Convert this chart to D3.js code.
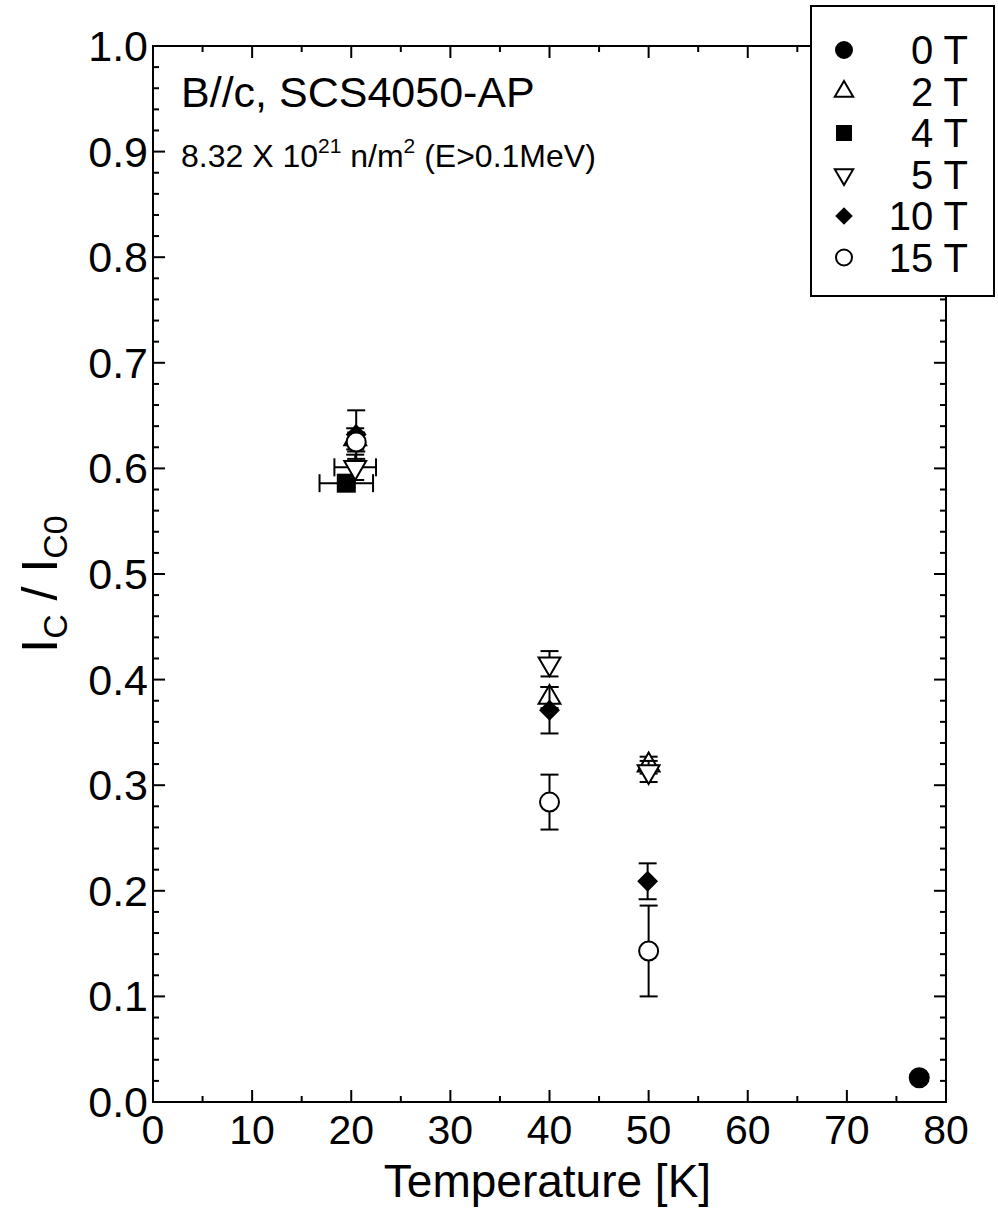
<!DOCTYPE html>
<html><head><meta charset="utf-8">
<script src="https://cdn.jsdelivr.net/npm/d3@7"></script>
<style>
html,body{margin:0;padding:0;background:#fff;}
svg text{font-family:"Liberation Sans",Arial,Helvetica,sans-serif;fill:#000;}
</style></head>
<body><svg id="c" width="998" height="1208"></svg>
<script>
// ---- data ----
const seriesNames = ["0 T","2 T","4 T","5 T","10 T","15 T"];
const symbolsKind = ["circleFilled","triUp","square","triDown","diamond","circleOpen"];
const temp0 = [77.3];            const val0 = [0.023];               const err0 = [0];
const temp2 = [20.4, 40.0, 50.0]; const val2 = [0.628, 0.383, 0.319]; const err2 = [0.010, 0.010, 0.008];
const temp4 = [19.5];            const val4 = [0.586];               const err4 = [0.004];
const temp5 = [20.4, 40.0, 50.0]; const val5 = [0.601, 0.415, 0.313]; const err5 = [0.012, 0.012, 0.010];
const temp10 = [20.5, 40.0, 49.9]; const val10 = [0.632, 0.371, 0.209]; const err10 = [0.023, 0.022, 0.017];
const temp15 = [20.5, 40.0, 50.0]; const val15 = [0.625, 0.284, 0.143]; const err15 = [0.009, 0.026, 0.043];
const xerr4 = [2.7];
const xerr5 = [2.1, 0, 0];
const xTicks = [0,10,20,30,40,50,60,70,80];
const yTicks = [0.0,0.1,0.2,0.3,0.4,0.5,0.6,0.7,0.8,0.9,1.0];

const series = [
  {name:seriesNames[0], kind:symbolsKind[0], t:temp0, v:val0, e:err0, xe:[0]},
  {name:seriesNames[1], kind:symbolsKind[1], t:temp2, v:val2, e:err2, xe:[0,0,0]},
  {name:seriesNames[2], kind:symbolsKind[2], t:temp4, v:val4, e:err4, xe:xerr4},
  {name:seriesNames[3], kind:symbolsKind[3], t:temp5, v:val5, e:err5, xe:xerr5},
  {name:seriesNames[4], kind:symbolsKind[4], t:temp10, v:val10, e:err10, xe:[0,0,0]},
  {name:seriesNames[5], kind:symbolsKind[5], t:temp15, v:val15, e:err15, xe:[0,0,0]},
];

const svg = d3.select("#c");
const L=153, R=946, T=46, B=1102;
const x = d3.scaleLinear().domain([0,80]).range([L,R]);
const y = d3.scaleLinear().domain([0,1]).range([B,T]);

// frame
svg.append("rect").attr("x",L).attr("y",T).attr("width",R-L).attr("height",B-T)
  .attr("fill","none").attr("stroke","#000").attr("stroke-width",2);

// ticks
const g = svg.append("g").attr("stroke","#000").attr("stroke-width",2);
d3.range(0,81,5).forEach(v=>{
  const len = v%10===0 ? 12 : 6;
  g.append("line").attr("x1",x(v)).attr("x2",x(v)).attr("y1",B).attr("y2",B-len);
  g.append("line").attr("x1",x(v)).attr("x2",x(v)).attr("y1",T).attr("y2",T+len);
});
d3.range(0,51).forEach(i=>{
  const v=i*0.02; const len = i%5===0 ? 12 : 6;
  g.append("line").attr("x1",L).attr("x2",L+len).attr("y1",y(v)).attr("y2",y(v));
  g.append("line").attr("x1",R).attr("x2",R-len).attr("y1",y(v)).attr("y2",y(v));
});

// tick labels
svg.selectAll(".xl").data(xTicks).enter().append("text")
  .attr("x",d=>x(d)).attr("y",B+42).attr("text-anchor","middle")
  .attr("font-size",41).text(d=>d);
svg.selectAll(".yl").data(yTicks).enter().append("text")
  .attr("x",L-5).attr("y",d=>y(d)+15).attr("text-anchor","end")
  .attr("font-size",43).text(d=>d.toFixed(1));

// axis titles
svg.append("text").attr("x",(L+R)/2-2).attr("y",1197).attr("text-anchor","middle")
  .attr("font-size",46).text("Temperature [K]");
const yt = svg.append("text").attr("transform","translate(57,584) rotate(-90)")
  .attr("text-anchor","middle").attr("font-size",50);
yt.append("tspan").text("I");
yt.append("tspan").attr("font-size",34).attr("dy",10).text("C");
yt.append("tspan").attr("dy",-10).text(" / I");
yt.append("tspan").attr("font-size",34).attr("dy",10).text("C0");

// annotations
svg.append("text").attr("x",181).attr("y",107).attr("font-size",43).text("B//c, SCS4050-AP");
const an = svg.append("text").attr("x",181).attr("y",167).attr("font-size",32);
an.append("tspan").text("8.32 X 10");
an.append("tspan").attr("font-size",21).attr("dy",-14).text("21");
an.append("tspan").attr("dy",14).text(" n/m");
an.append("tspan").attr("font-size",21).attr("dy",-14).text("2");
an.append("tspan").attr("dy",14).text(" (E>0.1MeV)");

// marker drawing
function marker(sel, kind, s){
  const h=s/2;
  if(kind==="circleFilled"||kind==="circleOpen"){
    sel.append("circle").attr("r",h).attr("fill",kind==="circleFilled"?"#000":"#fff")
      .attr("stroke","#000").attr("stroke-width",2);
  } else if(kind==="square"){
    sel.append("rect").attr("x",-h).attr("y",-h).attr("width",s).attr("height",s).attr("fill","#000");
  } else if(kind==="diamond"){
    const d=h*1.1;
    sel.append("path").attr("d",`M0,${-d}L${d},0L0,${d}L${-d},0Z`).attr("fill","#000");
  } else if(kind==="triUp"){
    const w=s*1.15, hh=w*0.866;
    sel.append("path").attr("d",`M0,${-hh*2/3}L${w/2},${hh/3}L${-w/2},${hh/3}Z`)
      .attr("fill","#fff").attr("stroke","#000").attr("stroke-width",2);
  } else if(kind==="triDown"){
    const w=s*1.15, hh=w*0.866;
    sel.append("path").attr("d",`M0,${hh*2/3}L${w/2},${-hh/3}L${-w/2},${-hh/3}Z`)
      .attr("fill","#fff").attr("stroke","#000").attr("stroke-width",2);
  }
}

// data points
const cap=9;
series.forEach(s=>{
  const gs = svg.append("g");
  s.t.forEach((t,i)=>{
    const cx=x(t), cy=y(s.v[i]);
    const eb = gs.append("g").attr("stroke","#000").attr("stroke-width",2);
    if(s.e[i]>0){
      const y1=y(s.v[i]+s.e[i]), y2=y(s.v[i]-s.e[i]);
      eb.append("line").attr("x1",cx).attr("x2",cx).attr("y1",y1).attr("y2",y2);
      eb.append("line").attr("x1",cx-cap).attr("x2",cx+cap).attr("y1",y1).attr("y2",y1);
      eb.append("line").attr("x1",cx-cap).attr("x2",cx+cap).attr("y1",y2).attr("y2",y2);
    }
    if(s.xe[i]>0){
      const x1=x(t-s.xe[i]), x2=x(t+s.xe[i]);
      eb.append("line").attr("x1",x1).attr("x2",x2).attr("y1",cy).attr("y2",cy);
      eb.append("line").attr("x1",x1).attr("x2",x1).attr("y1",cy-cap).attr("y2",cy+cap);
      eb.append("line").attr("x1",x2).attr("x2",x2).attr("y1",cy-cap).attr("y2",cy+cap);
    }
    const m = gs.append("g").attr("transform",`translate(${cx},${cy})`);
    marker(m, s.kind, 19);
  });
});

// legend
const lg = svg.append("g");
lg.append("rect").attr("x",811).attr("y",6).attr("width",183).attr("height",290)
  .attr("fill","#fff").attr("stroke","#000").attr("stroke-width",2);
series.forEach((s,i)=>{
  const cy = 50 + i*41.5;
  const m = lg.append("g").attr("transform",`translate(844,${cy})`);
  marker(m, s.kind, 16);
  lg.append("text").attr("x",968).attr("y",cy+14).attr("text-anchor","end")
    .attr("font-size",40).text(s.name);
});
</script></body></html>
